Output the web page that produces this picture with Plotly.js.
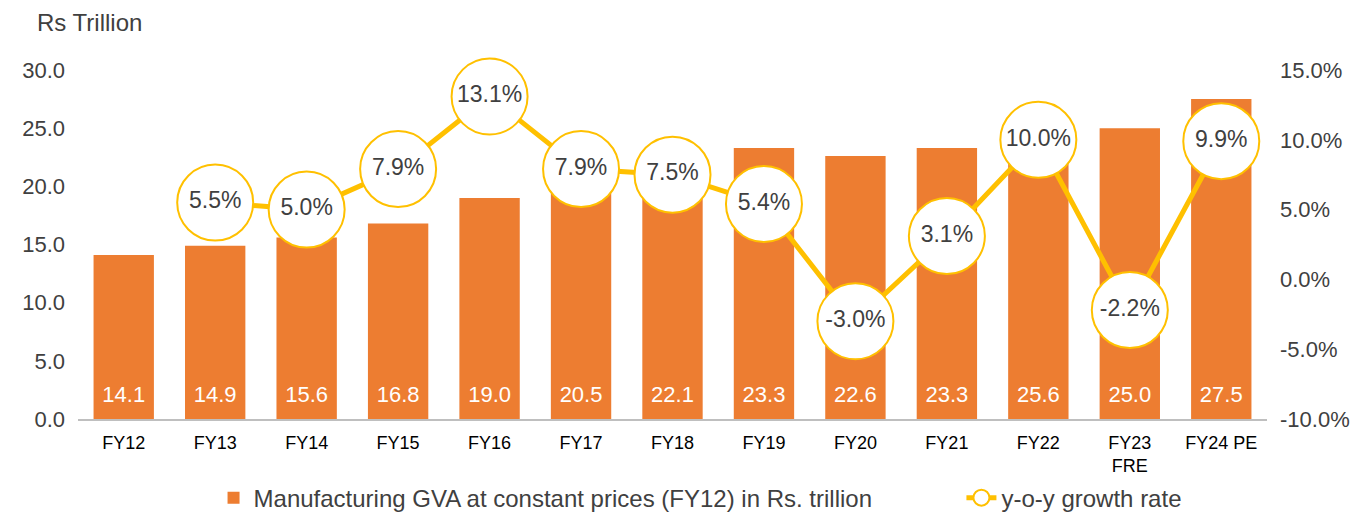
<!DOCTYPE html>
<html>
<head>
<meta charset="utf-8">
<script src="https://cdn.plot.ly/plotly-3.0.1.min.js"></script>
<style>html,body{margin:0;padding:0;background:#fff;}#chart{width:1364px;height:515px;}</style>
</head>
<body>
<div id="chart"></div>
<script>
const categories = ["FY12","FY13","FY14","FY15","FY16","FY17","FY18","FY19","FY20","FY21","FY22","FY23<br>FRE","FY24 PE"];
const gvaValues = [14.1,14.9,15.6,16.8,19.0,20.5,22.1,23.3,22.6,23.3,25.6,25.0,27.5];
const growthCategories = ["FY13","FY14","FY15","FY16","FY17","FY18","FY19","FY20","FY21","FY22","FY23<br>FRE","FY24 PE"];
const growthValues = [5.5,5.0,7.9,13.1,7.9,7.5,5.4,-3.0,3.1,10.0,-2.2,9.9];
const leftTicks = [0,5,10,15,20,25,30];
const rightTicks = [-10,-5,0,5,10,15];

const FONT = "Arial, 'Liberation Sans', sans-serif";
const data = [
  {
    type: "bar",
    name: "Manufacturing GVA at constant prices (FY12) in Rs. trillion",
    legend: "legend",
    x: categories,
    y: gvaValues,
    marker: {color: "#ED7D31"},
    texttemplate: "<span style='font-size:22px'>%{y:.1f}</span><br>\u00A0",
    textposition: "inside",
    insidetextanchor: "start",
    textangle: 0,
    insidetextfont: {color: "#FFFFFF", size: 9, family: FONT},
    hoverinfo: "x+y"
  },
  {
    type: "scatter",
    mode: "lines+markers",
    name: "y-o-y growth rate",
    legend: "legend2",
    x: growthCategories,
    y: growthValues,
    yaxis: "y2",
    line: {color: "#FFC000", width: 5},
    marker: {size: 76, color: "#FFFFFF", line: {color: "#FFC000", width: 2}},
    cliponaxis: false
  },
  {
    type: "scatter",
    mode: "text",
    showlegend: false,
    x: growthCategories,
    y: growthValues,
    yaxis: "y2",
    text: growthValues.map(v => v.toFixed(1) + "%"),
    textposition: "middle center",
    textfont: {color: "#404040", size: 23, family: FONT},
    cliponaxis: false,
    hoverinfo: "skip"
  }
];

const legendFont = {size: 24, color: "#404040", family: FONT};
const layout = {
  width: 1364,
  height: 515,
  margin: {l: 78, r: 97, t: 70, b: 96, autoexpand: false},
  paper_bgcolor: "#FFFFFF",
  plot_bgcolor: "#FFFFFF",
  font: {family: FONT, color: "#404040"},
  bargap: 0.34,
  showlegend: true,
  legend: {
    orientation: "h",
    x: 0.114, xanchor: "left",
    y: -0.162, yanchor: "top",
    font: legendFont
  },
  legend2: {
    orientation: "h",
    x: 0.743, xanchor: "left",
    y: -0.162, yanchor: "top",
    font: legendFont
  },
  xaxis: {
    type: "category",
    range: [-0.5, categories.length - 0.5],
    showline: true,
    linecolor: "#BFBFBF",
    linewidth: 2,
    ticks: "",
    showgrid: false,
    ticklabelstandoff: 6,
    tickfont: {size: 18, color: "#000000", family: FONT},
    automargin: false
  },
  yaxis: {
    range: [0, 30],
    tickvals: leftTicks,
    tickformat: ".1f",
    showgrid: false,
    zeroline: false,
    showline: false,
    ticks: "",
    ticklabelstandoff: 12,
    tickfont: {size: 22, color: "#404040", family: FONT},
    automargin: false
  },
  yaxis2: {
    overlaying: "y",
    side: "right",
    range: [-10, 15],
    tickvals: rightTicks,
    ticktext: rightTicks.map(v => v.toFixed(1) + "%"),
    showgrid: false,
    zeroline: false,
    showline: false,
    ticks: "",
    ticklabelstandoff: 12,
    tickfont: {size: 22, color: "#404040", family: FONT},
    automargin: false
  },
  annotations: [
    {
      text: "Rs Trillion",
      xref: "paper", yref: "paper",
      x: -0.036, y: 1.0, xanchor: "left", yanchor: "bottom",
      yshift: 32,
      showarrow: false,
      font: {size: 24, color: "#404040", family: FONT}
    }
  ]
};

Plotly.newPlot("chart", data, layout, {displayModeBar: false, responsive: false});
</script>
</body>
</html>
